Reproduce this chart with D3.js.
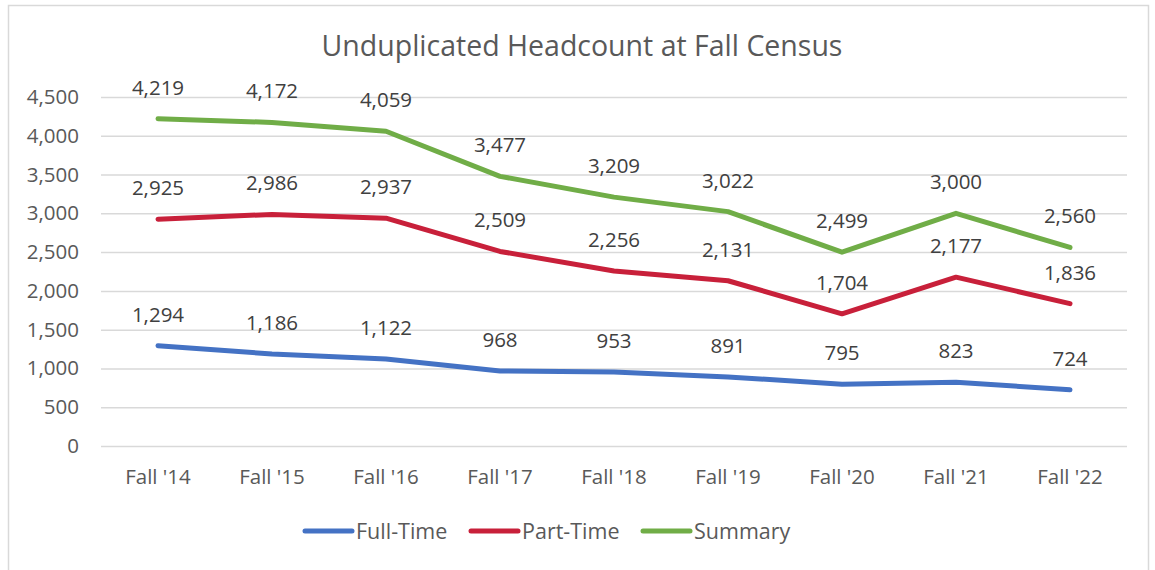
<!DOCTYPE html>
<html>
  <head>
    <title>Unduplicated Headcount at Fall Census</title>
    <script src="https://cdn.jsdelivr.net/npm/d3@7"></script>
    <style>
      body, html { margin: 0; padding: 0; background: #fff; }
      text { font-family: "Open Sans", sans-serif; }
    </style>
  </head>
  <body>
    <svg id="svg" width="1155" height="570"></svg>
    <script>
      // data
      const terms = ["Fall '14", "Fall '15", "Fall '16", "Fall '17", "Fall '18", "Fall '19", "Fall '20", "Fall '21", "Fall '22"];
      const fullTime = [1294, 1186, 1122, 968, 953, 891, 795, 823, 724];
      const partTime = [2925, 2986, 2937, 2509, 2256, 2131, 1704, 2177, 1836];
      const summary = [4219, 4172, 4059, 3477, 3209, 3022, 2499, 3000, 2560];
      const yTicks = [0, 500, 1000, 1500, 2000, 2500, 3000, 3500, 4000, 4500];

      const series = [
        { name: "Full-Time", values: fullTime, color: "#4472C4" },
        { name: "Part-Time", values: partTime, color: "#C8203A" },
        { name: "Summary", values: summary, color: "#70AD47" }
      ];

      const svg = d3.select("#svg");
      const plotLeft = 101, plotRight = 1127, plotTop = 97, plotBottom = 446;

      // outer chart border
      svg.append("rect")
        .attr("x", 8.5).attr("y", 5.5)
        .attr("width", 1140).attr("height", 570)
        .attr("fill", "none")
        .attr("stroke", "#d9d9d9")
        .attr("stroke-width", 1.5);

      svg.append("text")
        .attr("x", 582).attr("y", 56)
        .attr("text-anchor", "middle")
        .attr("font-size", 28.5)
        .attr("fill", "#595959")
        .text("Unduplicated Headcount at Fall Census");

      const x = d3.scaleBand().domain(terms).range([plotLeft, plotRight]);
      const y = d3.scaleLinear().domain([0, 4500]).range([plotBottom, plotTop]);

      // gridlines
      svg.append("g")
        .selectAll("line")
        .data(yTicks)
        .join("line")
        .attr("x1", plotLeft).attr("x2", plotRight)
        .attr("y1", d => y(d) + 0.5).attr("y2", d => y(d) + 0.5)
        .attr("stroke", "#d9d9d9")
        .attr("stroke-width", 1.5);

      // y labels
      svg.append("g")
        .selectAll("text")
        .data(yTicks)
        .join("text")
        .attr("x", 79)
        .attr("y", d => y(d) + 7)
        .attr("text-anchor", "end")
        .attr("font-size", 20.5)
        .attr("fill", "#595959")
        .text(d => d3.format(",")(d));

      // x labels
      svg.append("g")
        .selectAll("text")
        .data(terms)
        .join("text")
        .attr("x", d => x(d) + x.bandwidth() / 2)
        .attr("y", 484)
        .attr("text-anchor", "middle")
        .attr("font-size", 20.5)
        .attr("fill", "#595959")
        .text(d => d);

      const linegen = d3.line()
        .x((d, i) => x(terms[i]) + x.bandwidth() / 2)
        .y(d => y(d));

      series.forEach(s => {
        svg.append("path")
          .attr("d", linegen(s.values))
          .attr("fill", "none")
          .attr("stroke", s.color)
          .attr("stroke-width", 5)
          .attr("stroke-linecap", "round")
          .attr("stroke-linejoin", "round");

        svg.append("g")
          .selectAll("text")
          .data(s.values)
          .join("text")
          .attr("x", (d, i) => x(terms[i]) + x.bandwidth() / 2)
          .attr("y", d => y(d) - 24)
          .attr("text-anchor", "middle")
          .attr("font-size", 20.5)
          .attr("fill", "#404040")
          .text(d => d3.format(",")(d));
      });

      // legend
      const legendX = [305, 471, 643];
      const legend = svg.append("g")
        .selectAll("g")
        .data(series)
        .join("g")
        .attr("transform", (d, i) => `translate(${legendX[i]}, 531)`);
      legend.append("line")
        .attr("x1", 0).attr("x2", 47)
        .attr("stroke", d => d.color)
        .attr("stroke-width", 5)
        .attr("stroke-linecap", "round");
      legend.append("text")
        .attr("x", 51).attr("y", 8)
        .attr("font-size", 21.5)
        .attr("fill", "#595959")
        .text(d => d.name);
    </script>
  </body>
</html>
